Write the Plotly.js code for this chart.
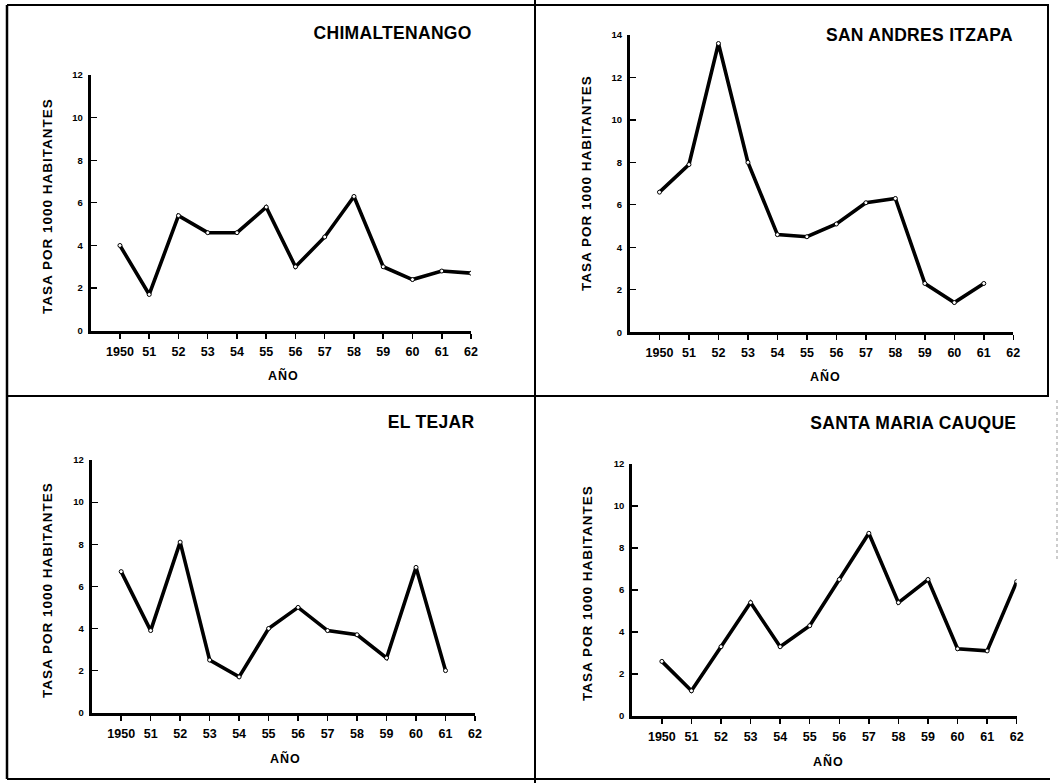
<!DOCTYPE html>
<html>
<head>
<meta charset="utf-8">
<script src="https://cdn.plot.ly/plotly-3.0.1.min.js"></script>
<style>
  html, body { margin: 0; padding: 0; background: #fff; }
  #chart { width: 1061px; height: 783px; }
  .annotation-text { letter-spacing: 1px; }
  .annotation[data-index="0"] .annotation-text,
  .annotation[data-index="3"] .annotation-text,
  .annotation[data-index="6"] .annotation-text,
  .annotation[data-index="9"] .annotation-text { letter-spacing: 0.3px; }
</style>
</head>
<body>
<div id="chart"></div>
<script>
// ---- data ----
const years = [1950, 1951, 1952, 1953, 1954, 1955, 1956, 1957, 1958, 1959, 1960, 1961, 1962];
const yearLabels = ['1950', '51', '52', '53', '54', '55', '56', '57', '58', '59', '60', '61', '62'];
const chimaltenango = [4.0, 1.7, 5.4, 4.6, 4.6, 5.8, 3.0, 4.4, 6.3, 3.0, 2.4, 2.8, 2.7];
const sanAndresItzapa = [6.6, 7.9, 13.6, 8.0, 4.6, 4.5, 5.1, 6.1, 6.3, 2.3, 1.4, 2.3, null];
const elTejar = [6.7, 3.9, 8.1, 2.5, 1.7, 4.0, 5.0, 3.9, 3.7, 2.6, 6.9, 2.0, null];
const santaMariaCauque = [2.6, 1.2, 3.3, 5.4, 3.3, 4.3, 6.5, 8.7, 5.4, 6.5, 3.2, 3.1, 6.4];
const panelTitles = ['CHIMALTENANGO', 'SAN ANDRES ITZAPA', 'EL TEJAR', 'SANTA MARIA CAUQUE'];
const yTicks12 = [0, 2, 4, 6, 8, 10, 12];
const yTicks14 = [0, 2, 4, 6, 8, 10, 12, 14];
const yTitle = 'TASA POR 1000 HABITANTES';
const xTitle = 'AÑO';

// ---- layout helpers (pixel -> paper) ----
const W = 1061, H = 783;
const px = v => v / W;
const py = v => 1 - v / H;

const fam = '"Liberation Sans", Arial, "DejaVu Sans", sans-serif';

const panels = [
  {vals: chimaltenango, xd: [90.7, 471], yd: [75, 330.7], yr: [0, 12], yt: yTicks12,
   title: [478, 33], ytitle: [47, 206], xtitle: [283, 375]},
  {vals: sanAndresItzapa, xd: [630, 1013.3], yd: [35, 332.3], yr: [0, 14], yt: yTicks14,
   title: [1021, 35], ytitle: [587, 183], xtitle: [825, 377]},
  {vals: elTejar, xd: [91.7, 475], yd: [460, 712.7], yr: [0, 12], yt: yTicks12,
   title: [479, 422], ytitle: [47, 590], xtitle: [285, 758]},
  {vals: santaMariaCauque, xd: [632.3, 1016.7], yd: [464, 716], yr: [0, 12], yt: yTicks12,
   title: [1025, 423], ytitle: [587, 593], xtitle: [828, 761]}
];

const data = [];
const layout = {
  width: W, height: H,
  margin: {l: 0, r: 0, t: 0, b: 0, autoexpand: false},
  paper_bgcolor: '#fff', plot_bgcolor: 'rgba(0,0,0,0)',
  showlegend: false,
  annotations: [],
  shapes: []
};

panels.forEach((p, i) => {
  const n = i + 1;
  const xa = 'x' + (n === 1 ? '' : n), ya = 'y' + (n === 1 ? '' : n);
  data.push({
    x: years, y: p.vals, xaxis: xa, yaxis: ya,
    type: 'scatter', mode: 'lines+markers',
    line: {color: '#000', width: 3.6},
    marker: {size: 4, color: '#fff', line: {color: '#000', width: 1}},
    hoverinfo: 'x+y'
  });
  const xk = 'xaxis' + (n === 1 ? '' : n), yk = 'yaxis' + (n === 1 ? '' : n);
  layout[xk] = {
    domain: [px(p.xd[0]), px(p.xd[1])],
    range: [1949, 1962], anchor: ya,
    showgrid: false, zeroline: false,
    showline: true, linecolor: '#000', linewidth: 3,
    ticks: 'outside', ticklen: 5, tickwidth: 1.5, tickcolor: '#000',
    tickvals: years, ticktext: yearLabels,
    tickfont: {family: fam, size: 12.5, color: '#000', weight: 'bold'},
    ticklabelstandoff: 2,
    fixedrange: true
  };
  layout[yk] = {
    domain: [py(p.yd[1]), py(p.yd[0])],
    range: p.yr, anchor: xa,
    showgrid: false, zeroline: false,
    showline: true, linecolor: '#000', linewidth: 3,
    ticks: 'inside', ticklen: 6, tickwidth: 1.2, tickcolor: '#000',
    tickvals: p.yt,
    tickfont: {family: fam, size: 9.5, color: '#000', weight: 'bold'},
    ticklabelstandoff: 3,
    fixedrange: true
  };
  layout.annotations.push({
    xref: 'paper', yref: 'paper', x: px(p.title[0]), y: py(p.title[1]),
    xanchor: 'right', yanchor: 'middle', showarrow: false,
    text: panelTitles[i],
    font: {family: fam, size: 17.5, color: '#000', weight: 'bold'}
  });
  layout.annotations.push({
    xref: 'paper', yref: 'paper', x: px(p.ytitle[0]), y: py(p.ytitle[1]),
    xanchor: 'center', yanchor: 'middle', showarrow: false, textangle: -90,
    text: yTitle,
    font: {family: fam, size: 13.5, color: '#000', weight: 'bold'}
  });
  layout.annotations.push({
    xref: 'paper', yref: 'paper', x: px(p.xtitle[0]), y: py(p.xtitle[1]),
    xanchor: 'center', yanchor: 'middle', showarrow: false,
    text: xTitle,
    font: {family: fam, size: 12.5, color: '#000', weight: 'bold'}
  });
});

// frame lines of the figure
const frame = (x0, y0, x1, y1, w, c, dash) => ({
  type: 'line', xref: 'paper', yref: 'paper',
  x0: px(x0), y0: py(y0), x1: px(x1), y1: py(y1),
  line: {color: c || '#000', width: w || 2, dash: dash || 'solid'}
});
layout.shapes.push(
  frame(7, 5, 1049, 5, 2),
  frame(7, 5, 7, 779, 2.5),
  frame(535, 0, 535, 783, 2),
  frame(7, 396, 1049, 396, 2),
  frame(7, 779, 1050, 779, 2),
  frame(1048, 5, 1048, 396, 2),
  frame(1057, 400, 1057, 560, 1, '#999', 'dot')
);

Plotly.newPlot('chart', data, layout, {displayModeBar: false, staticPlot: true});
</script>
</body>
</html>
